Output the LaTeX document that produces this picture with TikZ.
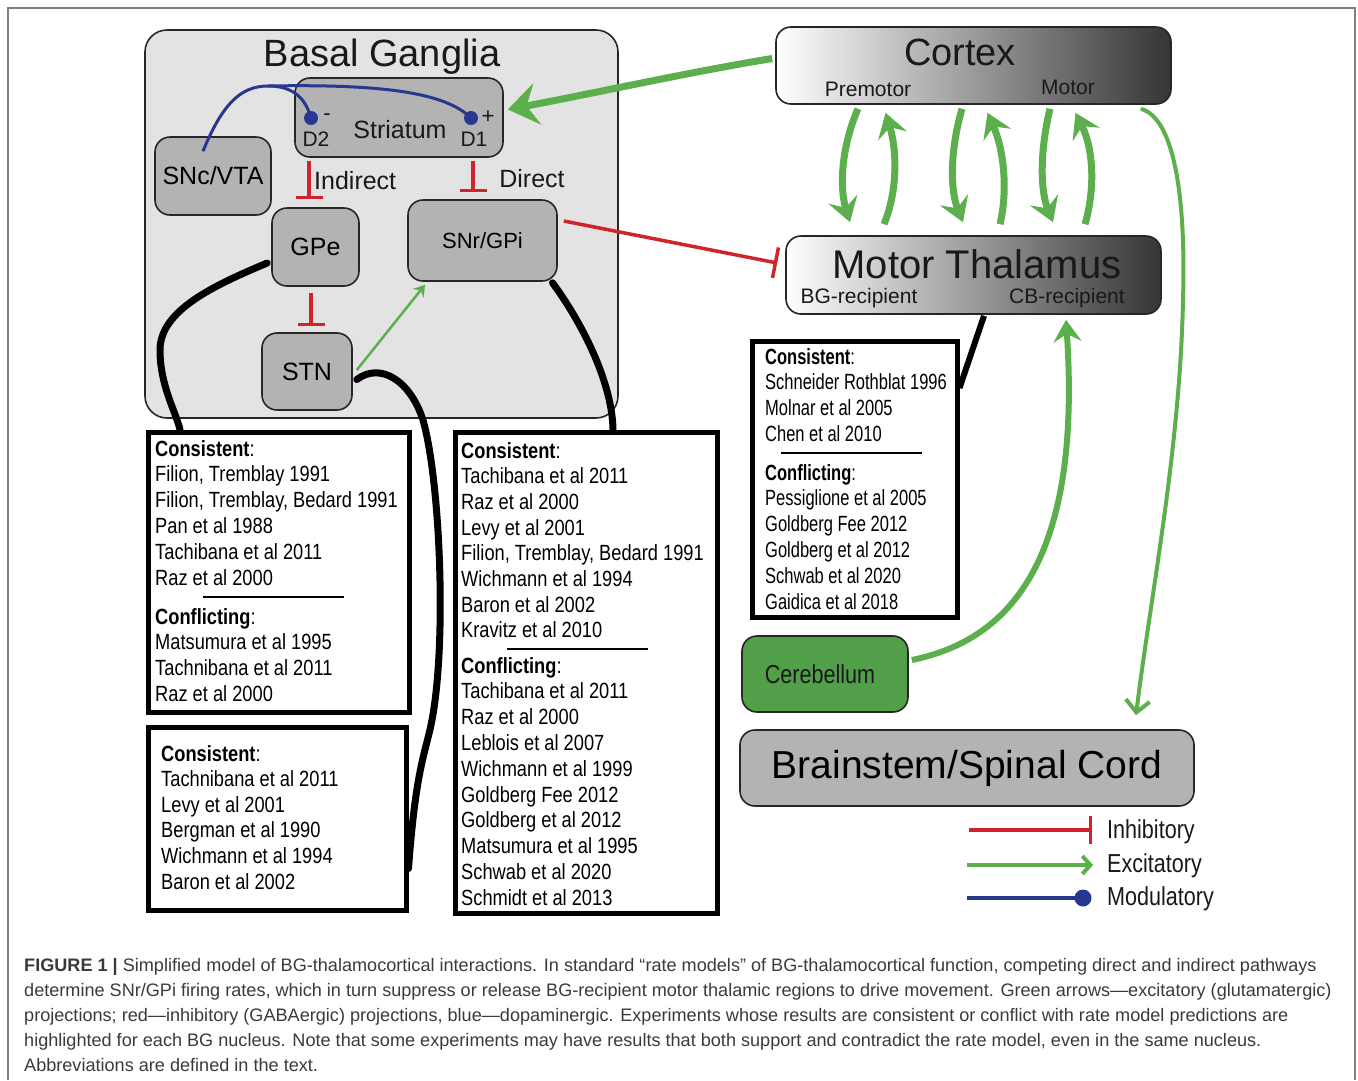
\documentclass[tikz,border=0pt]{standalone}
\usepackage{fontspec}
\setmainfont{Liberation Sans}
\newfontfamily\narrowfont{Liberation Sans}[FakeStretch=0.83]
\newfontfamily\narrowerfont{Liberation Sans}[FakeStretch=0.75]
\newfontfamily\capfont{Liberation Sans}[FakeStretch=1.0]
\usetikzlibrary{arrows.meta}
\newcommand\myfs[1]{\fontsize{#1}{#1}\selectfont}
\definecolor{bgfill}{HTML}{E3E3E3}
\definecolor{nodegray}{HTML}{B3B3B3}
\definecolor{exgreen}{HTML}{5CAF4C}
\definecolor{cbgreen}{HTML}{529F4A}
\definecolor{inhred}{HTML}{D0232B}
\definecolor{modblue}{HTML}{283891}
\definecolor{capgray}{HTML}{3A3A3A}
\definecolor{gradend}{HTML}{353535}
\definecolor{framegray}{HTML}{808080}
\newcommand\reflist[6][reft]{%
  \foreach \t [count=\i from 0] in {#6} {\node[#1] (#2-\i) at (#3, #4+\i*#5) {\t};}}
\tikzset{
  rbox/.style={draw=black!85, line width=1.6pt, rounded corners=15pt, fill=nodegray, inner sep=0pt},
  gbox/.style={draw=black!85, line width=1.6pt, rounded corners=15pt, left color=white, right color=gradend, inner sep=0pt},
  lbl/.style={inner sep=0pt, text=black!90},
  reft/.style={inner sep=0pt, anchor=base west, font=\narrowfont\myfs{22}},
  refthal/.style={inner sep=0pt, anchor=base west, font=\narrowerfont\myfs{22}},
  refbox/.style={draw=black, line width=5pt, fill=white, inner sep=0pt},
  inhib/.style={draw=inhred, line width=3.5pt, -{Bar[width=27pt]}},
  excbig/.style={draw=exgreen, line width=7pt, -{Stealth[length=24pt,width=30pt,inset=9pt]}},
  blk/.style={draw=black, line width=7pt, line cap=round},
  modl/.style={draw=modblue, line width=3pt},
  capt/.style={inner sep=0pt, anchor=base west, text=capgray, font=\capfont\myfs{18.1}},
}
\begin{document}
\begin{tikzpicture}[x=1pt,y=-1pt]
\useasboundingbox (0,0) rectangle (1358,1080);
\draw[framegray, line width=1.5pt] (8,1080) -- (8,8) -- (1355,8) -- (1355,1080);

% ---------------- Basal ganglia ----------------
\node[rbox, fill=bgfill, rounded corners=22pt, minimum width=473pt, minimum height=388pt] (bg) at (381.5,224) {};
\node[lbl, font=\myfs{38}] (bgt) at (382,57) {Basal Ganglia};
\node[rbox, minimum width=208pt, minimum height=79pt] (str) at (399,117.5) {};
\node[lbl, font=\myfs{25}] (strt) at (400,130) {Striatum};
\node[lbl, font=\myfs{21}] (d2) at (316,139) {D2};
\node[lbl, font=\myfs{21}] (d1) at (474,139) {D1};
\node[lbl, font=\myfs{22}] (minus) at (327,117) {-};
\node[lbl, font=\myfs{22}] (plus) at (488,117) {+};
\node[rbox, minimum width=116pt, minimum height=78pt, font=\myfs{25}] (snc) at (213,176) {SNc/VTA};
\node[rbox, minimum width=87pt, minimum height=78pt, font=\myfs{25}] (gpe) at (315.5,247) {GPe};
\node[rbox, minimum width=149pt, minimum height=81pt, font=\myfs{22}] (snr) at (482.5,240.5) {SNr/GPi};
\node[rbox, minimum width=90pt, minimum height=77pt, font=\myfs{25}] (stn) at (307,371.5) {STN};

% dopamine
\node[circle, fill=modblue, minimum size=14pt, inner sep=0pt] (d2dot) at (311,118) {};
\node[circle, fill=modblue, minimum size=14pt, inner sep=0pt] (d1dot) at (471,118) {};
\coordinate (bj) at (268,86);
\draw[modl] ([xshift=-10pt,yshift=-15pt]snc.north) .. controls (222,105) and (240,86) .. (bj)
  .. controls (295,86) and (306,100) .. (d2dot.center);
\draw[modl] (bj) .. controls (380,84) and (445,92) .. (d1dot.center);

% inhibitory in BG
\draw[inhib] ([xshift=-90pt,yshift=-3pt]str.south) -- ([xshift=-6.5pt,yshift=8pt]gpe.north);
\draw[inhib] ([xshift=74pt,yshift=-3pt]str.south) -- ([xshift=-9.5pt,yshift=7pt]snr.north);
\draw[inhib] ([xshift=-4.5pt,yshift=-6pt]gpe.south) -- ([xshift=4pt,yshift=6pt]stn.north);
\node[lbl, anchor=west, font=\myfs{25}] (ind) at (314,181) {Indirect};
\node[lbl, font=\myfs{25}] (dir) at (532,179) {Direct};

% STN -> SNr
\draw[exgreen, line width=2.5pt, -{Stealth[length=11pt,width=14pt,inset=4pt]}]
  ([xshift=4pt,yshift=1.5pt]stn.east) -- ([xshift=-57.5pt,yshift=-3pt]snr.south);

% ---------------- Cortex / thalamus ----------------
\node[gbox, minimum width=395pt, minimum height=77pt] (cortex) at (973.5,65.5) {};
\node[lbl, font=\myfs{38}] (cortt) at (960,52) {Cortex};
\node[lbl, font=\myfs{21}] (prem) at (868,89) {Premotor};
\node[lbl, font=\myfs{21}] (mot) at (1068,87) {Motor};
\node[gbox, minimum width=375pt, minimum height=78pt] (thal) at (973.5,275) {};
\node[lbl, font=\myfs{40}] (thalt) at (977,264.5) {Motor Thalamus};
\node[lbl, font=\myfs{21}] (bgr) at (859,298.5) {BG-recipient};
\node[lbl, font=\myfs{21}] (cbr) at (1067,298) {CB-recipient};

\node[rbox, fill=cbgreen, minimum width=166pt, minimum height=76pt] (cereb) at (825,674) {};
\node[lbl, font=\narrowfont\myfs{26}] (cerebt) at (820,674) {Cerebellum};
\node[rbox, minimum width=454pt, minimum height=76pt, font=\myfs{39}] (brain) at (967,768) {Brainstem/Spinal Cord};

% cortex -> striatum
\draw[draw=exgreen, line width=7pt, -{Stealth[length=30pt,width=42pt,inset=11pt]}]
  ([xshift=-3pt,yshift=7pt]cortex.west) .. controls (690,72) and (600,92) .. ([xshift=4pt,yshift=8pt]str.east);

% cortex <-> thalamus
\draw[excbig] ([xshift=-115.5pt,yshift=-4pt]cortex.south) .. controls (840,150) and (840,190) .. ([xshift=-123.5pt,yshift=13pt]thal.north);
\draw[excbig] ([xshift=-89.5pt,yshift=11pt]thal.north) .. controls (898,190) and (897,150) .. ([xshift=-88pt,yshift=-8pt]cortex.south);
\draw[excbig] ([xshift=-11.5pt,yshift=-4pt]cortex.south) .. controls (950,150) and (950,190) .. ([xshift=-10.5pt,yshift=13pt]thal.north);
\draw[excbig] ([xshift=26.5pt,yshift=11pt]thal.north) .. controls (1008,190) and (1004,150) .. ([xshift=14pt,yshift=-8pt]cortex.south);
\draw[excbig] ([xshift=76.5pt,yshift=-4pt]cortex.south) .. controls (1040,150) and (1040,190) .. ([xshift=79.5pt,yshift=13pt]thal.north);
\draw[excbig] ([xshift=111.5pt,yshift=11pt]thal.north) .. controls (1095,190) and (1094,150) .. ([xshift=102pt,yshift=-8pt]cortex.south);

% SNr -> thalamus
\draw[draw=inhred, line width=3.5pt, -{Bar[width=31pt]}] ([xshift=6pt,yshift=19.5pt]snr.east) -- ([xshift=-8pt,yshift=12pt]thal.west);

% cortex -> brainstem
\draw[draw=exgreen, line width=4pt, -{Straight Barb[length=12pt,width=24pt]}]
  ([xshift=-31pt,yshift=-4pt]cortex.south east) .. controls (1175,118) and (1186,200) .. (1183,300)
  .. controls (1180,450) and (1150,600) .. ([xshift=169pt,yshift=14pt]brain.north);

% cerebellum -> thalamus
\draw[draw=exgreen, line width=6pt, -{Stealth[length=22pt,width=28pt,inset=8pt]}]
  ([xshift=3pt,yshift=14pt]cereb.east) .. controls (1010,640) and (1082,560) .. ([xshift=92.5pt,yshift=-5pt]thal.south);

% ---------------- reference boxes ----------------
\node[refbox, minimum width=261pt, minimum height=280pt] (rgpe) at (278.5,572) {};
\node[refbox, minimum width=258pt, minimum height=183pt] (rstn) at (277,818.5) {};
\node[refbox, minimum width=262pt, minimum height=481pt] (rsnr) at (586,672.5) {};
\node[refbox, minimum width=205pt, minimum height=276pt] (rthal) at (854.5,479) {};

\reflist{ga}{155}{456}{25.8}{\textbf{Consistent}:,{Filion, Tremblay 1991},{Filion, Tremblay, Bedard 1991},Pan et al 1988,Tachibana et al 2011,Raz et al 2000}
\draw[line width=1.8pt] (203,597) -- (344,597);
\reflist{gb}{155}{624}{25.8}{\textbf{Conflicting}:,Matsumura et al 1995,Tachnibana et al 2011,Raz et al 2000}

\reflist{sa}{161}{761}{25.6}{\textbf{Consistent}:,Tachnibana et al 2011,Levy et al 2001,Bergman et al 1990,Wichmann et al 1994,Baron et al 2002}

\reflist{na}{461}{458}{25.7}{\textbf{Consistent}:,Tachibana et al 2011,Raz et al 2000,Levy et al 2001,{Filion, Tremblay, Bedard 1991},Wichmann et al 1994,Baron et al 2002,Kravitz et al 2010}
\draw[line width=1.8pt] (507,649) -- (648,649);
\reflist{nb}{461}{673}{25.8}{\textbf{Conflicting}:,Tachibana et al 2011,Raz et al 2000,Leblois et al 2007,Wichmann et al 1999,Goldberg Fee 2012,Goldberg et al 2012,Matsumura et al 1995,Schwab et al 2020,Schmidt et al 2013}

\reflist[refthal]{ta}{765}{364}{25.7}{\textbf{Consistent}:,Schneider Rothblat 1996,Molnar et al 2005,Chen et al 2010}
\draw[line width=1.8pt] (781,453) -- (922,453);
\reflist[refthal]{tb}{765}{480}{25.8}{\textbf{Conflicting}:,Pessiglione et al 2005,Goldberg Fee 2012,Goldberg et al 2012,Schwab et al 2020,Gaidica et al 2018}

% black connectors
\draw[blk] ([xshift=-4pt,yshift=-16pt]gpe.west) .. controls (215,285) and (160,310) .. (160,350)
  .. controls (160,385) and (175,410) .. ([xshift=-98.5pt]rgpe.north);
\draw[blk] ([xshift=4pt,yshift=-8pt]stn.east) .. controls (380,362) and (410,380) .. (423,420)
  .. controls (440,480) and (447,640) .. (432,720) .. controls (426,752) and (416,766) .. ([yshift=-50pt]rstn.east);
\draw[blk] ([xshift=70pt,yshift=-1pt]snr.south) .. controls (580,320) and (612,380) .. ([xshift=27pt]rsnr.north);
\draw[draw=black, line width=6pt] ([xshift=10.5pt,yshift=-1pt]thal.south) -- ([yshift=91pt]rthal.east);

% ---------------- legend ----------------
\coordinate (li0) at (969,830); \coordinate (li1) at (1092,830);
\draw[draw=inhred, line width=3.5pt, -{Bar[width=28pt]}] (li0) -- (li1);
\node[lbl, anchor=west, font=\narrowfont\myfs{26}] (lit) at (1107,832) {Inhibitory};
\coordinate (le0) at (967,865); \coordinate (le1) at (1093,865);
\draw[draw=exgreen, line width=4pt, -{Straight Barb[length=8pt,width=18pt]}] (le0) -- (le1);
\node[lbl, anchor=west, font=\narrowfont\myfs{26}] (let) at (1107,866) {Excitatory};
\coordinate (lm0) at (967,898);
\node[circle, fill=modblue, minimum size=17pt, inner sep=0pt] (lmdot) at (1083,898) {};
\draw[modl, line width=3.5pt] (lm0) -- (lmdot.center);
\node[lbl, anchor=west, font=\narrowfont\myfs{26}] (lmt) at (1107,899) {Modulatory};

% ---------------- caption ----------------
\node[capt] (cap1) at (24,971) {\textbf{FIGURE 1 |} Simplified model of BG-thalamocortical interactions. In standard “rate models” of BG-thalamocortical function, competing direct and indirect pathways};
\node[capt] (cap2) at (24,996) {determine SNr/GPi firing rates, which in turn suppress or release BG-recipient motor thalamic regions to drive movement. Green arrows—excitatory (glutamatergic)};
\node[capt] (cap3) at (24,1021) {projections; red—inhibitory (GABAergic) projections, blue—dopaminergic. Experiments whose results are consistent or conflict with rate model predictions are};
\node[capt] (cap4) at (24,1046) {highlighted for each BG nucleus. Note that some experiments may have results that both support and contradict the rate model, even in the same nucleus.};
\node[capt] (cap5) at (24,1071) {Abbreviations are defined in the text.};
\end{tikzpicture}
\end{document}
